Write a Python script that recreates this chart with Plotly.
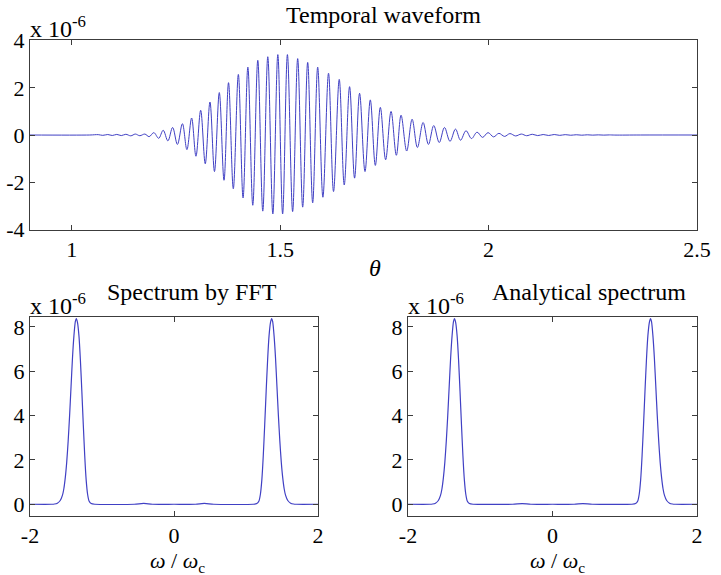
import plotly.graph_objects as go

# ---------------- data ----------------
# Temporal waveform: successive extrema (theta, amplitude in units of 1e-6)
theta = [0.900, 1.0433, 1.0637, 1.0745, 1.0865, 1.0974, 1.1082, 1.1190, 1.1298, 1.1418,
         1.1526, 1.1635, 1.1755, 1.1858, 1.1971, 1.2087, 1.2195, 1.2308, 1.2421, 1.2536,
         1.2656, 1.2764, 1.2877, 1.2981, 1.3094, 1.3204, 1.3317, 1.3425, 1.3541, 1.3654,
         1.3762, 1.3877, 1.3998, 1.4111, 1.4226, 1.4344, 1.4464, 1.4584, 1.4704, 1.4825,
         1.4945, 1.5060, 1.5175, 1.5300, 1.5421, 1.5541, 1.5661, 1.5781, 1.5901, 1.6026,
         1.6161, 1.6281, 1.6418, 1.6538, 1.6666, 1.6786, 1.6906, 1.7036, 1.7163, 1.7284,
         1.7404, 1.7531, 1.7661, 1.7788, 1.7901, 1.8036, 1.8166, 1.8293, 1.8430, 1.8558,
         1.8685, 1.8817, 1.8942, 1.9075, 1.9207, 1.9327, 1.9459, 1.9591, 1.9724, 1.9856,
         1.9988, 2.0120, 2.0248, 2.0385, 2.0512, 2.0649, 2.0786, 2.0913, 2.1050, 2.1178,
         2.1310, 2.1442, 2.1575, 2.1707, 2.1839, 2.1971, 2.2103, 2.2236, 2.2368, 2.2500,
         2.2632, 2.2764, 2.2897, 2.3029, 2.3650, 2.500]
amplitude = [0.0, 0.0, 0.015, -0.015, 0.02, -0.02, 0.025, -0.025, 0.03, -0.035,
             0.04, -0.03, 0.04, -0.07, 0.10, -0.14, 0.20, -0.25, 0.32, -0.40,
             0.48, -0.62, 0.72, -0.90, 1.05, -1.22, 1.40, -1.55, 1.80, -1.92,
             2.22, -2.28, 2.57, -2.67, 2.88, -2.98, 3.17, -3.23, 3.32, -3.35,
             3.41, -3.35, 3.41, -3.25, 3.24, -3.06, 3.08, -2.88, 2.88, -2.64,
             2.62, -2.40, 2.36, -2.12, 2.05, -1.83, 1.77, -1.55, 1.49, -1.29,
             1.17, -1.05, 1.00, -0.86, 0.84, -0.68, 0.67, -0.53, 0.53, -0.40,
             0.40, -0.32, 0.32, -0.27, 0.25, -0.22, 0.18, -0.15, 0.12, -0.10,
             0.10, -0.08, 0.07, -0.06, 0.06, -0.04, 0.04, -0.03, 0.03, -0.025,
             0.02, -0.02, 0.02, -0.015, 0.015, -0.01, 0.01, -0.008, 0.008, -0.006,
             0.006, -0.005, 0.004, -0.003, 0.0, 0.0]

# Spectrum (omega / omega_c, magnitude in units of 1e-6)
omega = [-2.00, -1.70, -1.66, -1.62, -1.58, -1.55, -1.53, -1.51, -1.49, -1.47,
         -1.45, -1.43, -1.41, -1.39, -1.37, -1.356, -1.34, -1.32, -1.30, -1.28,
         -1.26, -1.24, -1.22, -1.20, -1.18, -1.15, -1.10, -0.55, -0.42, -0.30,
         0.00, 0.30, 0.42, 0.55, 1.10, 1.15, 1.18, 1.20, 1.22, 1.24,
         1.26, 1.28, 1.30, 1.32, 1.34, 1.356, 1.37, 1.39, 1.41, 1.43,
         1.45, 1.47, 1.49, 1.51, 1.53, 1.55, 1.58, 1.62, 1.66, 1.70, 2.00]
spectrum_fft = [0.0, 0.0, 0.01, 0.05, 0.17, 0.40, 0.70, 1.20, 1.90, 2.85,
                4.00, 5.30, 6.60, 7.60, 8.25, 8.38, 8.20, 7.60, 6.50, 5.10,
                3.60, 2.20, 1.10, 0.45, 0.15, 0.03, 0.0, 0.0, 0.04, 0.0,
                0.0, 0.0, 0.04, 0.0, 0.0, 0.03, 0.15, 0.45, 1.10, 2.20,
                3.60, 5.10, 6.50, 7.60, 8.20, 8.38, 8.25, 7.60, 6.60, 5.30,
                4.00, 2.85, 1.90, 1.20, 0.70, 0.40, 0.17, 0.05, 0.01, 0.0, 0.0]
spectrum_analytic = [0.0, 0.0, 0.01, 0.05, 0.17, 0.40, 0.70, 1.20, 1.90, 2.85,
                     4.00, 5.30, 6.60, 7.60, 8.25, 8.38, 8.20, 7.60, 6.50, 5.10,
                     3.60, 2.20, 1.10, 0.45, 0.15, 0.03, 0.0, 0.0, 0.03, 0.0,
                     0.0, 0.0, 0.03, 0.0, 0.0, 0.03, 0.15, 0.45, 1.10, 2.20,
                     3.60, 5.10, 6.50, 7.60, 8.20, 8.38, 8.25, 7.60, 6.60, 5.30,
                     4.00, 2.85, 1.90, 1.20, 0.70, 0.40, 0.17, 0.05, 0.01, 0.0, 0.0]

top_xticks = [1, 1.5, 2, 2.5]
top_yticks = [-4, -2, 0, 2, 4]
spec_xticks = [-2, 0, 2]
spec_yticks = [0, 2, 4, 6, 8]
scale = 1e-6

# ---------------- figure ----------------
W, H = 721, 575
FONT = "Liberation Serif"
LINE = "rgb(64,64,196)"
AX = "#3c3c3c"

def px(x):
    return x / W

def py(y):
    return 1 - y / H

fig = go.Figure()
fig.add_trace(go.Scatter(x=theta, y=[a * scale for a in amplitude], mode="lines",
                         line=dict(color=LINE, width=1, shape="spline", smoothing=1.0),
                         xaxis="x", yaxis="y", showlegend=False))
fig.add_trace(go.Scatter(x=omega, y=[s * scale for s in spectrum_fft], mode="lines",
                         line=dict(color=LINE, width=1.2, shape="spline", smoothing=0.6),
                         xaxis="x2", yaxis="y2", showlegend=False))
fig.add_trace(go.Scatter(x=omega, y=[s * scale for s in spectrum_analytic], mode="lines",
                         line=dict(color=LINE, width=1.2, shape="spline", smoothing=0.6),
                         xaxis="x3", yaxis="y3", showlegend=False))

axis_common = dict(showline=True, mirror="allticks", linecolor=AX, linewidth=1,
                   ticks="inside", ticklen=5, tickcolor=AX, showgrid=False, zeroline=False,
                   automargin=False,
                   tickfont=dict(family=FONT, size=22, color="black"))

fig.update_layout(
    width=W, height=H, margin=dict(l=0, r=0, t=0, b=0, autoexpand=False),
    paper_bgcolor="white", plot_bgcolor="white",
    xaxis=dict(domain=[px(30), px(697)], range=[0.9, 2.5], tickvals=top_xticks,
               ticktext=[str(t) for t in top_xticks], anchor="y", **axis_common),
    yaxis=dict(domain=[py(230), py(40)], range=[-4.03 * scale, 4.03 * scale],
               tickvals=[t * scale for t in top_yticks],
               ticktext=[str(t) for t in top_yticks], anchor="x", **axis_common),
    xaxis2=dict(domain=[px(30), px(318)], range=[-2, 2], tickvals=spec_xticks,
                ticktext=[str(t) for t in spec_xticks], anchor="y2", **axis_common),
    yaxis2=dict(domain=[py(516), py(317)], range=[-0.53 * scale, 8.45 * scale],
                tickvals=[t * scale for t in spec_yticks],
                ticktext=[str(t) for t in spec_yticks], anchor="x2", **axis_common),
    xaxis3=dict(domain=[px(408), px(697)], range=[-2, 2], tickvals=spec_xticks,
                ticktext=[str(t) for t in spec_xticks], anchor="y3", **axis_common),
    yaxis3=dict(domain=[py(516), py(317)], range=[-0.53 * scale, 8.45 * scale],
                tickvals=[t * scale for t in spec_yticks],
                ticktext=[str(t) for t in spec_yticks], anchor="x3", **axis_common),
)

def note(text, x, y, size=24):
    fig.add_annotation(text=text, x=px(x), y=py(y), xref="paper", yref="paper",
                       showarrow=False, xanchor="center", yanchor="middle",
                       font=dict(family=FONT, size=size, color="black"))

note("Temporal waveform", 383, 15)
note("Spectrum by FFT", 192, 292)
note("Analytical spectrum", 589, 292)
note("x 10<sup>-6</sup>", 58, 27)
note("x 10<sup>-6</sup>", 58, 304)
note("x 10<sup>-6</sup>", 436, 304)
note("<i>θ</i>", 375, 268)
note("<i>ω</i> / <i>ω</i><sub>c</sub>", 177, 562, size=22)
note("<i>ω</i> / <i>ω</i><sub>c</sub>", 557, 562, size=22)

fig.write_html("out.html")
